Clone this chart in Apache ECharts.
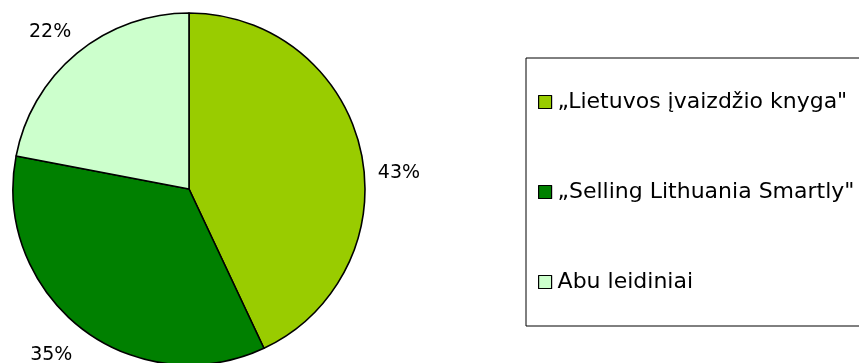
<!DOCTYPE html>
<html>
<head>
<meta charset="utf-8">
<script src="https://cdn.jsdelivr.net/npm/echarts@6/dist/echarts.min.js"></script>
<style>
html,body{margin:0;padding:0;background:#fff;}
#chart{width:859px;height:363px;}
</style>
</head>
<body>
<div id="chart"></div>
<script>
const categories = ['„Lietuvos įvaizdžio knyga"', '„Selling Lithuania Smartly"', 'Abu leidiniai'];
const values = [43, 35, 22];
const colors = ['#99CC00', '#008000', '#CCFFCC'];

const chart = echarts.init(document.getElementById('chart'), null, {renderer: 'canvas'});
const fontFamily = '"DejaVu Sans", "Liberation Sans", Arial, sans-serif';

chart.setOption({
  animation: false,
  backgroundColor: '#ffffff',
  color: colors,
  legend: {
    orient: 'vertical',
    left: 526,
    top: 58,
    data: categories,
    icon: 'rect',
    itemWidth: 13,
    itemHeight: 13,
    itemGap: 68,
    padding: [33, 150, 33, 12],
    borderColor: '#000',
    borderWidth: 1,
    borderRadius: 0,
    itemStyle: {borderColor: '#000', borderWidth: 1.2},
    textStyle: {fontFamily: fontFamily, fontSize: 22, lineHeight: 21, color: '#000', padding: [0, 0, 0, 1]}
  },
  series: [{
    type: 'pie',
    center: [189, 189],
    radius: 176,
    startAngle: 90,
    clockwise: true,
    avoidLabelOverlap: false,
    data: categories.map((c, i) => ({name: c, value: values[i]})),
    itemStyle: {borderColor: '#000', borderWidth: 1.6},
    label: {
      show: true,
      position: 'outside',
      formatter: '{c}%',
      fontFamily: fontFamily,
      fontSize: 19,
      color: '#000'
    },
    labelLine: {show: false, length: 34, length2: 0},
    labelLayout: function (p) {
      const r = p.labelRect;
      const leftSide = (r.x + r.width / 2) < 189;
      const shiftY = [30, 0, 5];
      const shiftX = [0, -4, 0];
      return {
        dx: (leftSide ? r.width / 2 : -r.width / 2) + shiftX[p.dataIndex],
        dy: shiftY[p.dataIndex]
      };
    },
    emphasis: {disabled: true}
  }]
});
</script>
</body>
</html>
